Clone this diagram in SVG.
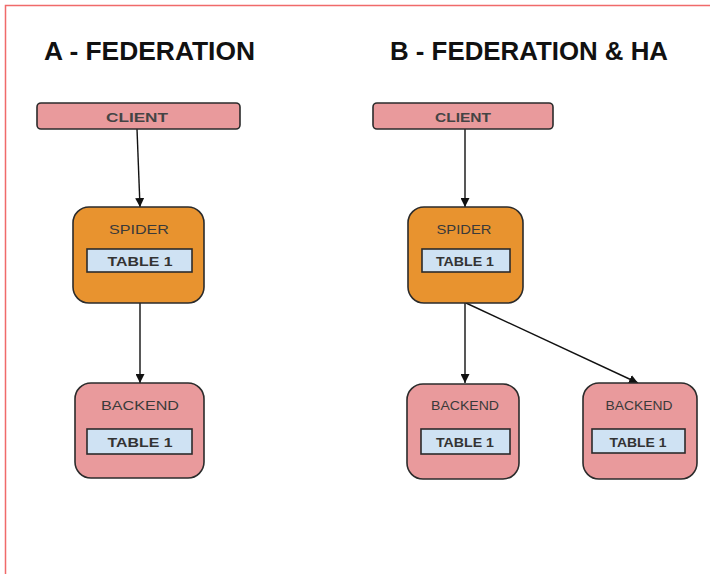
<svg xmlns="http://www.w3.org/2000/svg" width="710" height="574" viewBox="0 0 710 574">
  <defs>
    <marker id="arrow" viewBox="0 0 10 10" refX="10" refY="5" markerWidth="9" markerHeight="9" markerUnits="userSpaceOnUse" orient="auto">
      <path d="M0,0 L10,5 L0,10 z" fill="#111"/>
    </marker>
    <style>
      .title { font-family: "Liberation Sans", Arial, sans-serif; font-weight: bold; font-size: 25px; fill: #111; }
      .client { fill: #e99a9c; stroke: #2b2b2b; stroke-width: 1.6; }
      .spider { fill: #e8932f; stroke: #2b2b2b; stroke-width: 1.6; }
      .backend { fill: #e99a9c; stroke: #2b2b2b; stroke-width: 1.6; }
      .table { fill: #cfe2f3; stroke: #2b2b2b; stroke-width: 1.6; }
      .lbl { font-family: "Liberation Sans", Arial, sans-serif; font-size: 13px; fill: #3a3a3a; text-anchor: middle; }
      .cl { font-weight: bold; fill: #444; }
      .tbl { font-family: "Liberation Sans", Arial, sans-serif; font-size: 13.5px; font-weight: bold; fill: #333; text-anchor: middle; }
      .edge { stroke: #111; stroke-width: 1.4; fill: none; marker-end: url(#arrow); }
    </style>
  </defs>

  <rect width="710" height="574" fill="#ffffff"/>
  <!-- page frame -->
  <path d="M5.5,574 L5.5,5.5 L710,5.5" fill="none" stroke="#f06a6a" stroke-width="1.5"/>

  <!-- headings -->
  <text class="title" x="44" y="60" textLength="211" lengthAdjust="spacingAndGlyphs">A - FEDERATION</text>
  <text class="title" x="390" y="60" textLength="278" lengthAdjust="spacingAndGlyphs">B - FEDERATION &amp; HA</text>

  <!-- connectors -->
  <g id="connectors">
    <path class="edge" d="M137,129 L140,207"/>
    <path class="edge" d="M140,303 L140,383"/>
    <path class="edge" d="M465,129 L465,207"/>
    <path class="edge" d="M465,303 L465,383"/>
    <path class="edge" d="M466,303 L638,383"/>
  </g>

  <!-- A: federation -->
  <g id="clientA">
    <rect class="client" x="37" y="103" width="203" height="26" rx="4"/>
    <text class="lbl cl" x="137" y="122" textLength="62" lengthAdjust="spacingAndGlyphs">CLIENT</text>
  </g>
  <g id="spiderA">
    <rect class="spider" x="73" y="207" width="131" height="96" rx="16"/>
    <text class="lbl" x="139" y="234" textLength="60" lengthAdjust="spacingAndGlyphs">SPIDER</text>
    <rect class="table" x="87" y="249" width="105" height="23"/>
    <text class="tbl" x="140" y="266" textLength="65" lengthAdjust="spacingAndGlyphs">TABLE 1</text>
  </g>
  <g id="backendA">
    <rect class="backend" x="75" y="383" width="129" height="95" rx="16"/>
    <text class="lbl" x="140" y="410" textLength="78" lengthAdjust="spacingAndGlyphs">BACKEND</text>
    <rect class="table" x="87" y="429" width="105" height="25"/>
    <text class="tbl" x="140" y="447" textLength="65" lengthAdjust="spacingAndGlyphs">TABLE 1</text>
  </g>

  <!-- B: federation & HA -->
  <g id="clientB">
    <rect class="client" x="373" y="103" width="180" height="26" rx="4"/>
    <text class="lbl cl" x="463" y="122" textLength="56" lengthAdjust="spacingAndGlyphs">CLIENT</text>
  </g>
  <g id="spiderB">
    <rect class="spider" x="408" y="207" width="115" height="96" rx="16"/>
    <text class="lbl" x="464" y="234" textLength="55" lengthAdjust="spacingAndGlyphs">SPIDER</text>
    <rect class="table" x="422" y="249" width="88" height="23"/>
    <text class="tbl" x="465" y="266" textLength="58" lengthAdjust="spacingAndGlyphs">TABLE 1</text>
  </g>
  <g id="backendB1">
    <rect class="backend" x="407" y="384" width="112" height="95" rx="16"/>
    <text class="lbl" x="465" y="410" textLength="68" lengthAdjust="spacingAndGlyphs">BACKEND</text>
    <rect class="table" x="421" y="429" width="89" height="25"/>
    <text class="tbl" x="465" y="447" textLength="58" lengthAdjust="spacingAndGlyphs">TABLE 1</text>
  </g>
  <g id="backendB2">
    <rect class="backend" x="583" y="383" width="114" height="96" rx="16"/>
    <text class="lbl" x="639" y="410" textLength="67" lengthAdjust="spacingAndGlyphs">BACKEND</text>
    <rect class="table" x="592" y="429" width="93" height="24"/>
    <text class="tbl" x="638" y="447" textLength="57" lengthAdjust="spacingAndGlyphs">TABLE 1</text>
  </g>
</svg>
